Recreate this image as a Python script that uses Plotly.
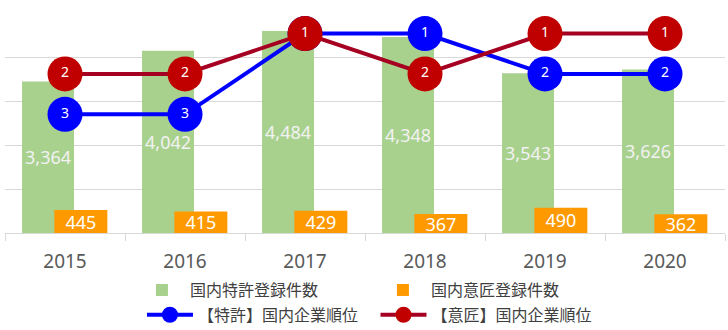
import plotly.graph_objects as go

years = ["2015", "2016", "2017", "2018", "2019", "2020"]
patent_counts = [3364, 4042, 4484, 4348, 3543, 3626]
design_counts = [445, 415, 429, 367, 490, 362]
patent_rank = [3, 3, 1, 1, 2, 2]
design_rank = [2, 2, 1, 2, 1, 1]

names = ["国内特許登録件数", "国内意匠登録件数", "【特許】国内企業順位", "【意匠】国内企業順位"]

FONT = "Noto Sans, Open Sans, Noto Sans CJK JP, sans-serif"
JFONT = "Noto Sans CJK JP, Noto Sans, sans-serif"

fig = go.Figure()

fig.add_trace(go.Bar(
    x=years, y=patent_counts, name=names[0],
    marker=dict(color="#A9D18E", line=dict(width=0)),
    width=0.433, offset=-0.358,
    text=[f"{v:,}" for v in patent_counts], textposition="inside", textangle=0,
    insidetextanchor="middle", constraintext="none",
    textfont=dict(color="#F2F2F2", size=18, family=FONT),
    yaxis="y", legend="legend",
))
fig.add_trace(go.Bar(
    x=years, y=design_counts, name=names[1],
    marker=dict(color="#FF9900", line=dict(width=0)),
    width=0.442, offset=-0.089,
    text=[f"{v:,}" for v in design_counts], textposition="inside", textangle=0,
    insidetextanchor="middle", constraintext="none",
    textfont=dict(color="#FFFFFF", size=18, family=FONT),
    yaxis="y2", legend="legend2",
))
fig.add_trace(go.Scatter(
    x=years, y=patent_rank, name=names[2], mode="lines+markers+text",
    line=dict(color="#0000FF", width=4),
    marker=dict(color="#0000FF", size=35, line=dict(width=0)),
    text=[str(v) for v in patent_rank], textposition="middle center",
    textfont=dict(color="white", size=14, family=FONT),
    yaxis="y3", legend="legend3",
))
fig.add_trace(go.Scatter(
    x=years, y=design_rank, name=names[3], mode="lines+markers+text",
    line=dict(color="#A50021", width=4),
    marker=dict(color="#C00000", size=35, line=dict(width=0)),
    text=[str(v) for v in design_rank], textposition="middle center",
    textfont=dict(color="white", size=14, family=FONT),
    yaxis="y3", legend="legend4",
))

leg_common = dict(orientation="h", xanchor="left", yanchor="middle",
                  xref="container", yref="container", itemwidth=46,
                  font=dict(size=16, color="#404040", family=JFONT),
                  bgcolor="rgba(0,0,0,0)")

fig.update_layout(
    width=728, height=330,
    margin=dict(l=5, r=3, t=13, b=97, autoexpand=False),
    paper_bgcolor="white", plot_bgcolor="white",
    barmode="overlay",
    showlegend=True,
    legend=dict(x=0.184, y=0.121, **leg_common),
    legend2=dict(x=0.515, y=0.121, **leg_common),
    legend3=dict(x=0.195, y=0.046, **leg_common),
    legend4=dict(x=0.5158, y=0.046, **leg_common),
    xaxis=dict(type="category", range=[-0.5, 5.5], autorange=False, automargin=False,
               showline=True, linecolor="#D9D9D9", linewidth=1,
               ticks="outside", tickson="boundaries", ticklen=7, tickcolor="#D9D9D9",
               ticklabelstandoff=11,
               tickfont=dict(size=19, color="#595959", family=FONT),
               showgrid=False, zeroline=False),
    yaxis=dict(range=[0, 4882], dtick=976, tick0=0, showgrid=True, gridcolor="#D9D9D9",
               gridwidth=1, showticklabels=False, zeroline=False, showline=False,
               automargin=False),
    yaxis2=dict(range=[0, 4260], overlaying="y", visible=False),
    yaxis3=dict(range=[5.94, 0.49], overlaying="y", visible=False),
)

fig.write_html("out.html")
